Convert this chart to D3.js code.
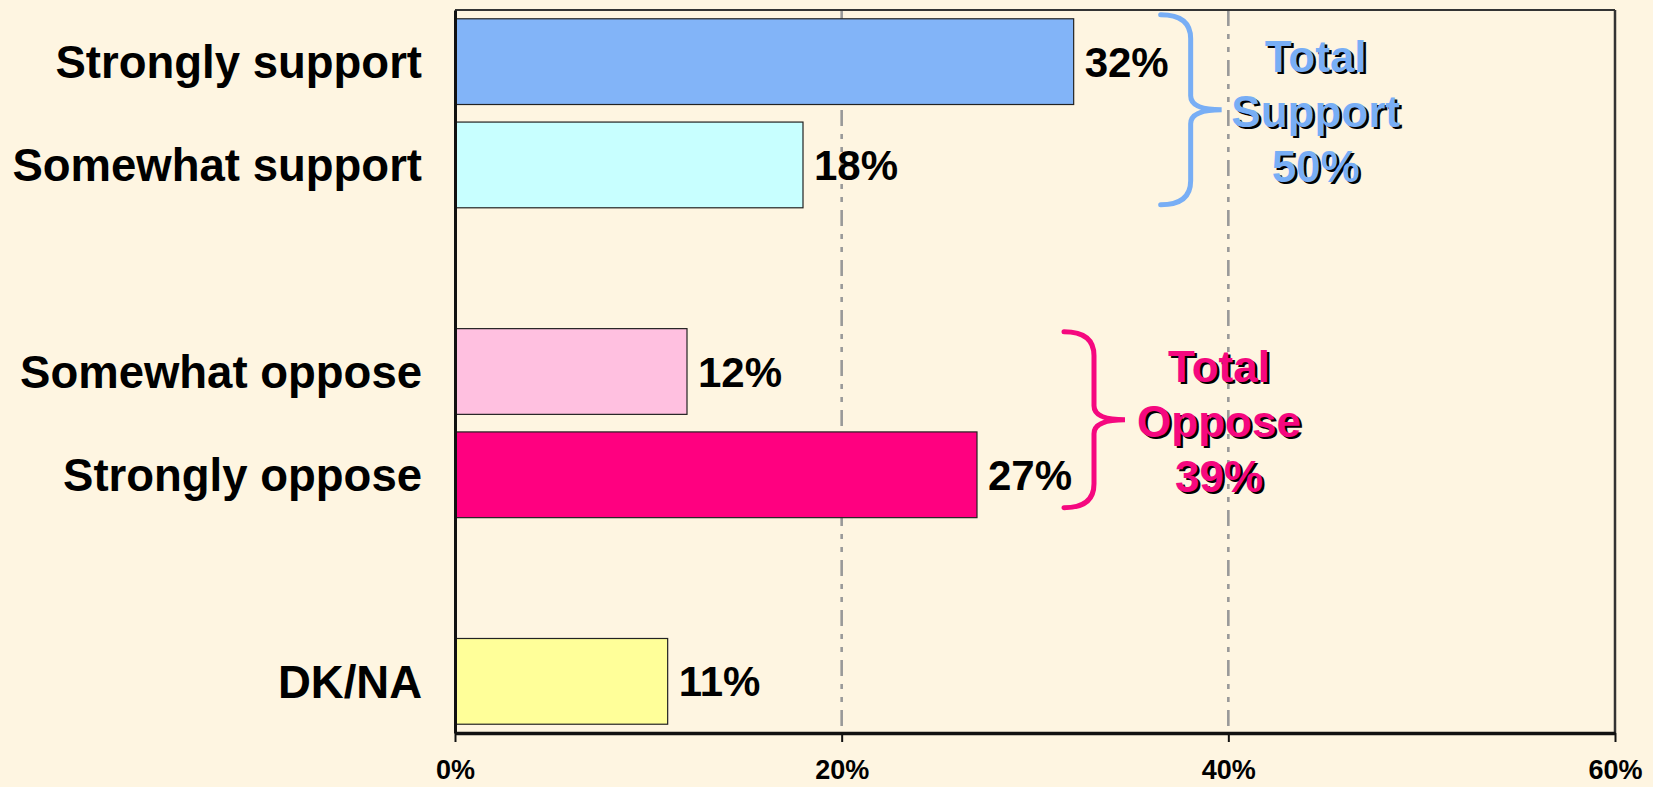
<!DOCTYPE html>
<html>
<head>
<meta charset="utf-8">
<script src="https://cdn.jsdelivr.net/npm/d3@7"></script>
<style>
  html, body { margin: 0; padding: 0; background: #FEF5E1; }
  svg { display: block; }
  text { font-family: "Liberation Sans", Arial, Helvetica, sans-serif; font-weight: bold; }
</style>
</head>
<body>
<svg id="chart" width="1653" height="787"></svg>
<script>
// ---- data ----
const categories = ["Strongly support", "Somewhat support", "Somewhat oppose", "Strongly oppose", "DK/NA"];
const values = [32, 18, 12, 27, 11];
const barColors = ["#82B4F8", "#C8FFFF", "#FFC0E0", "#FF0080", "#FFFF99"];
// row order including blank spacer rows
const rowOrder = ["Strongly support", "Somewhat support", "_gap1", "Somewhat oppose", "Strongly oppose", "_gap2", "DK/NA"];
const xTicks = [0, 20, 40, 60];
const groupNames = ["Support", "Oppose"];
const groupMembers = [["Strongly support", "Somewhat support"], ["Somewhat oppose", "Strongly oppose"]];
const groupColors = ["#78AEF5", "#F5087F"];
const braceInsets = [[-4, -3], [3, -10]]; // [top, bottom] offsets in px (styling)

// ---- layout ----
const W = 1653, H = 787;
const plot = { left: 455, right: 1615, top: 10, bottom: 733 };

const svg = d3.select("#chart");
svg.append("rect").attr("width", W).attr("height", H).attr("fill", "#FEF5E1");

const x = d3.scaleLinear().domain([0, 60]).range([plot.left, plot.right]);
const y = d3.scaleBand().domain(rowOrder).range([plot.top, plot.bottom])
  .paddingInner(0.17).paddingOuter(0.085);

const data = categories.map((c, i) => ({ cat: c, v: values[i], color: barColors[i] }));

// gridlines (dash-dot-dot)
svg.append("g").selectAll("line").data(xTicks.filter(t => t > 0 && t < 60)).join("line")
  .attr("x1", d => x(d)).attr("x2", d => x(d))
  .attr("y1", plot.top).attr("y2", plot.bottom)
  .attr("stroke", "#999").attr("stroke-width", 2.6)
  .attr("stroke-dasharray", "16,8,5,8,5,8");

// frame top & right
svg.append("line").attr("x1", plot.left).attr("x2", plot.right).attr("y1", plot.top).attr("y2", plot.top)
  .attr("stroke", "#333").attr("stroke-width", 2);
svg.append("line").attr("x1", plot.right).attr("x2", plot.right).attr("y1", plot.top).attr("y2", plot.bottom)
  .attr("stroke", "#333").attr("stroke-width", 2.5);

// bars
svg.append("g").selectAll("rect").data(data).join("rect")
  .attr("x", x(0)).attr("y", d => y(d.cat))
  .attr("width", d => x(d.v) - x(0)).attr("height", y.bandwidth())
  .attr("fill", d => d.color).attr("stroke", "#222").attr("stroke-width", 1.2);

// value labels
svg.append("g").selectAll("text").data(data).join("text")
  .attr("x", d => x(d.v) + 11).attr("y", d => y(d.cat) + y.bandwidth() / 2)
  .attr("dy", "0.36em").attr("font-size", 42).attr("fill", "#000")
  .text(d => d.v + "%");

// left axis
const yAxis = svg.append("g").attr("transform", `translate(${plot.left},0)`)
  .call(d3.axisLeft(y).tickSize(0).tickSizeOuter(0).tickPadding(33)
    .tickFormat(d => d.startsWith("_") ? "" : d));
yAxis.select(".domain").attr("stroke", "#111").attr("stroke-width", 3);
yAxis.selectAll("text").attr("font-size", 45.5).attr("font-family", "'Liberation Sans', Arial, sans-serif")
  .attr("font-weight", "bold").attr("fill", "#000").attr("dy", "0.36em");

// bottom axis
const xAxis = svg.append("g").attr("transform", `translate(0,${plot.bottom})`)
  .call(d3.axisBottom(x).tickValues(xTicks).tickFormat(d => d + "%").tickSize(9).tickSizeOuter(0).tickPadding(18));
xAxis.select(".domain").attr("stroke", "#111").attr("stroke-width", 3.5);
xAxis.selectAll(".tick line").attr("stroke", "#111").attr("stroke-width", 2);
xAxis.selectAll("text").attr("font-size", 27).attr("font-family", "'Liberation Sans', Arial, sans-serif")
  .attr("font-weight", "bold").attr("fill", "#000");

// braces + totals
groupNames.forEach((name, gi) => {
  const members = groupMembers[gi];
  const idx = members.map(m => categories.indexOf(m));
  const maxV = d3.max(idx, i => values[i]);
  const total = d3.sum(idx, i => values[i]);
  const yTop = d3.min(members, m => y(m)) + braceInsets[gi][0];
  const yBot = d3.max(members, m => y(m) + y.bandwidth()) + braceInsets[gi][1];
  const yMid = (yTop + yBot) / 2;
  const x0 = x(maxV) + 87;
  const sx = x0 + 30, tx = x0 + 61;
  const p = d3.path();
  p.moveTo(x0, yTop);
  p.quadraticCurveTo(sx, yTop, sx, yTop + 24);
  p.lineTo(sx, yMid - 14);
  p.quadraticCurveTo(sx, yMid, tx, yMid);
  p.quadraticCurveTo(sx, yMid, sx, yMid + 14);
  p.lineTo(sx, yBot - 24);
  p.quadraticCurveTo(sx, yBot, x0, yBot);
  svg.append("path").attr("d", p.toString()).attr("fill", "none")
    .attr("stroke", groupColors[gi]).attr("stroke-width", 5).attr("stroke-linecap", "round");

  const lines = ["Total", name, total + "%"];
  const cx = tx + 94;
  const g = svg.append("g");
  lines.forEach((t, li) => {
    const by = yMid + 17 + (li - 1) * 55;
    g.append("text").attr("x", cx + 2.5).attr("y", by + 2.5).attr("text-anchor", "middle")
      .attr("font-size", 44).attr("fill", "#000").text(t);
    g.append("text").attr("x", cx).attr("y", by).attr("text-anchor", "middle")
      .attr("font-size", 44).attr("fill", groupColors[gi]).text(t);
  });
});
</script>
</body>
</html>
